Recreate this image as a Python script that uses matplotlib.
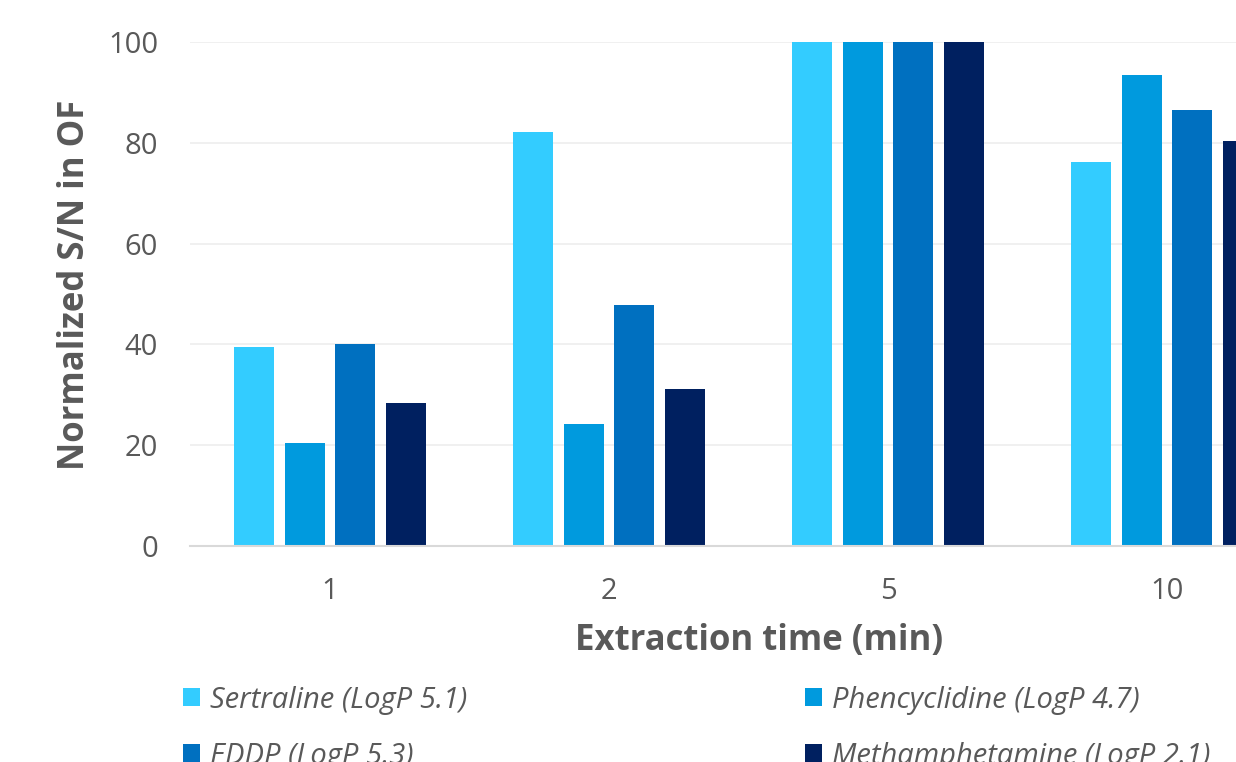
#!/usr/bin/env python3
"""Grouped bars: normalized S/N in oral fluid vs extraction time."""
import matplotlib
matplotlib.use("Agg")
import matplotlib.pyplot as plt
import numpy as np

times = ["1", "2", "5", "10"]
compounds = ["Sertraline (LogP 5.1)", "Phencyclidine (LogP 4.7)",
             "EDDP (LogP 5.3)", "Methamphetamine (LogP 2.1)"]
sertraline = [39.5, 82.1, 100, 76.1]
phencyclidine = [20.4, 24.2, 100, 93.4]
eddp = [40.1, 47.8, 100, 86.6]
methamphetamine = [28.4, 31.2, 100, 80.3]
colors = ["#33CCFF", "#009ADE", "#0070C0", "#002060"]

TXT = "#595959"
plt.rcParams["font.family"] = ["Open Sans", "DejaVu Sans"]

fig = plt.figure(figsize=(12.36, 7.62), dpi=100)
# plot area runs past the right edge, like the cropped original
ax = fig.add_axes([190 / 1236, 216 / 762, 1116.5 / 1236, 504 / 762])

x = np.arange(len(times))
width = 0.143
offsets = [-0.2716, -0.0907, 0.0907, 0.2716]
series = [sertraline, phencyclidine, eddp, methamphetamine]
bars = []
for vals, off, c, name in zip(series, offsets, colors, compounds):
    bars.append(ax.bar(x + off, vals, width, color=c, label=name, zorder=2))

ax.set_xlim(-0.502, 3.5)
ax.set_ylim(0, 100)
ax.set_yticks([0, 20, 40, 60, 80, 100])
ax.set_xticks(x)
ax.set_xticklabels(times)
ax.tick_params(length=0, labelsize=21, colors=TXT)
ax.tick_params(axis="y", pad=23)
ax.tick_params(axis="x", pad=22)
ax.grid(axis="y", color="#EDEDED", linewidth=1.2, zorder=0)
for s in ["top", "right", "left"]:
    ax.spines[s].set_visible(False)
ax.spines["bottom"].set_color("#D9D9D9")
ax.spines["bottom"].set_linewidth(1.5)

ax.set_xlabel("Extraction time (min)", fontsize=25, fontweight="bold", color=TXT)
ax.xaxis.set_label_coords(0.51, -0.152)
ax.set_ylabel("Normalized S/N in OF", fontsize=25, fontweight="bold", color=TXT)
ax.yaxis.set_label_coords(-0.087, 0.518)

# row-wise order: Sertraline, Phencyclidine / EDDP, Methamphetamine
order = [0, 2, 1, 3]
leg = fig.legend([bars[i] for i in order], [compounds[i] for i in order],
                 loc="upper left", bbox_to_anchor=(168 / 1236, 1 - 671 / 762),
                 ncol=2, frameon=False, borderpad=0,
                 prop={"size": 21, "style": "italic"},
                 handlelength=0.58, handleheight=0.58, handletextpad=0.35,
                 columnspacing=11.6, labelspacing=0.93)
for t in leg.get_texts():
    t.set_color(TXT)

fig.savefig("out.png", dpi=100)
